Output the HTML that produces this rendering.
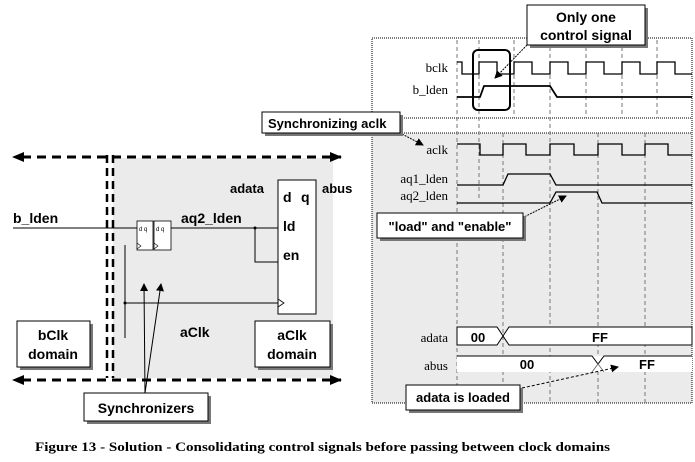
<!DOCTYPE html>
<html><head><meta charset="utf-8"><style>body{margin:0;background:#fff}svg{display:block}</style></head><body>
<svg width="695" height="462" viewBox="0 0 695 462" xmlns="http://www.w3.org/2000/svg">
<defs>
<marker id="ah" markerWidth="8" markerHeight="8" refX="7" refY="4" orient="auto" markerUnits="userSpaceOnUse"><path d="M0,0 L8,4 L0,8 z" fill="#000"/></marker>
<marker id="big" markerWidth="12" markerHeight="10" refX="11" refY="5" orient="auto" markerUnits="userSpaceOnUse"><path d="M0,0 L12,5 L0,10 z" fill="#000"/></marker>
</defs>
<g font-family="Liberation Sans, sans-serif" font-weight="bold">
<!-- left gray panel -->
<rect x="113" y="158" width="220" height="220" fill="#ebebeb"/>
<line x1="22" y1="157" x2="341" y2="157" stroke="#000" stroke-width="3" stroke-dasharray="9,6" marker-end="url(#big)"/>
<path d="M12,157 L24,152 L24,162 z"/>
<line x1="22" y1="380" x2="341" y2="380" stroke="#000" stroke-width="3" stroke-dasharray="9,6" marker-end="url(#big)"/>
<path d="M12,380 L24,375 L24,385 z"/>
<line x1="107" y1="155" x2="107" y2="378" stroke="#000" stroke-width="2.5" stroke-dasharray="8,5"/>
<line x1="113" y1="155" x2="113" y2="378" stroke="#000" stroke-width="2.5" stroke-dasharray="8,5"/>
<!-- register -->
<rect x="278" y="180" width="38" height="134" fill="#fff" stroke="#000"/>
<text x="283" y="202" font-size="14">d</text><text x="301" y="202" font-size="14">q</text>
<text x="283" y="231" font-size="14">ld</text>
<text x="283" y="260" font-size="14">en</text>
<path d="M278,299 L284,303 L278,307" fill="none" stroke="#000" stroke-width="0.8"/>
<text x="230" y="193" font-size="13">adata</text>
<text x="322" y="193" font-size="13">abus</text>
<!-- flops -->
<rect x="137" y="221" width="16" height="29" fill="#fff" stroke="#000" stroke-width="0.8"/>
<rect x="154" y="221" width="17" height="29" fill="#fff" stroke="#000" stroke-width="0.8"/>
<text x="139" y="231" font-size="6" font-weight="normal">d q</text>
<text x="156" y="231" font-size="6" font-weight="normal">d q</text>
<path d="M137,243 L141,246 L137,249 M154,243 L158,246 L154,249" fill="none" stroke="#000" stroke-width="0.6"/>
<line x1="13" y1="228" x2="137" y2="228" stroke="#000"/>
<line x1="171" y1="228" x2="278" y2="228" stroke="#000"/>
<circle cx="255" cy="228" r="1.5"/>
<path d="M255,228 V262 H278" fill="none" stroke="#000"/>
<line x1="125" y1="245" x2="125" y2="338" stroke="#000"/>
<line x1="125" y1="303" x2="278" y2="303" stroke="#000"/>
<circle cx="125" cy="303" r="1.5"/>
<text x="13" y="223" font-size="14">b_lden</text>
<text x="181" y="223" font-size="14">aq2_lden</text>
<text x="180" y="337" font-size="14">aClk</text>
<!-- domain boxes -->
<rect x="20" y="324" width="73" height="46" fill="#777"/>
<rect x="17" y="321" width="73" height="46" fill="#fff" stroke="#000"/>
<text x="53" y="340" font-size="14" text-anchor="middle">bClk</text>
<text x="53" y="359" font-size="14" text-anchor="middle">domain</text>
<rect x="258" y="324" width="75" height="46" fill="#777"/>
<rect x="255" y="321" width="75" height="46" fill="#fff" stroke="#000"/>
<text x="292" y="340" font-size="14" text-anchor="middle">aClk</text>
<text x="292" y="359" font-size="14" text-anchor="middle">domain</text>
<!-- synchronizers -->
<line x1="145" y1="393" x2="144" y2="284" stroke="#000" marker-end="url(#ah)"/>
<line x1="145" y1="393" x2="161" y2="284" stroke="#000" marker-end="url(#ah)"/>
<rect x="87" y="396" width="124" height="28" fill="#777"/>
<rect x="84" y="393" width="124" height="28" fill="#fff" stroke="#000"/>
<text x="146" y="413" font-size="14" text-anchor="middle">Synchronizers</text>

<!-- right timing -->
<rect x="372" y="133" width="320" height="270" fill="#ebebeb"/>
<rect x="372" y="38" width="320" height="365" fill="none" stroke="#000" stroke-dasharray="1,1"/>
<line x1="372" y1="118" x2="692" y2="118" stroke="#000" stroke-dasharray="1,1"/>
<line x1="372" y1="133" x2="692" y2="133" stroke="#000" stroke-dasharray="1,1"/>
<g stroke="#777" stroke-dasharray="4,3">
<line x1="457" y1="40" x2="457" y2="403"/>
<line x1="479" y1="40" x2="479" y2="200"/>
<line x1="514" y1="40" x2="514" y2="118"/>
<line x1="550" y1="40" x2="550" y2="403"/>
<line x1="586" y1="40" x2="586" y2="118"/>
<line x1="622" y1="40" x2="622" y2="118"/>
<line x1="657" y1="40" x2="657" y2="118"/>
<line x1="503" y1="133" x2="503" y2="403"/>
<line x1="598" y1="133" x2="598" y2="403"/>
<line x1="645" y1="133" x2="645" y2="403"/>
</g>
<g fill="none" stroke="#000" stroke-width="1.3">
<path d="M457,62 H462 V74 H479 V62 H497 V74 H514 V62 H532 V74 H550 V62 H568 V74 H586 V62 H604 V74 H622 V62 H640 V74 H657 V62 H675 V74 H692"/>
<path d="M457,97 H480 L484,86 H550 L557,97 H692" stroke-width="1.8"/>
<path d="M457,144 H480 V155 H503 V144 H526 V155 H550 V144 H574 V155 H598 V144 H622 V155 H645 V144 H668 V155 H692"/>
<path d="M457,185 H503 L508,174 H550 L556,185 H692"/>
<path d="M457,203 H550 L556,192 H597 L602,203 H692"/>
<path d="M457,327 H497 L503,336 L497,345 H457 Z" fill="#fff" stroke-width="1"/>
<path d="M503,336 L509,327 H692 V345 H509 Z" fill="#fff" stroke-width="1"/>
<rect x="457" y="356" width="235" height="16" fill="#fff" stroke="none"/>
<path d="M457,356 H592 L598,364 L604,356 H692" stroke-width="1"/>
<path d="M592,372 L598,364 L604,372" stroke-width="1" stroke="#777"/>
</g>
<rect x="473" y="50" width="37" height="60" rx="5" fill="none" stroke="#000" stroke-width="2"/>
<g font-family="Liberation Serif, serif" font-weight="normal" font-size="13" text-anchor="end">
<text x="448" y="72">bclk</text>
<text x="448" y="94">b_lden</text>
<text x="448" y="154">aclk</text>
<text x="448" y="183">aq1_lden</text>
<text x="448" y="200">aq2_lden</text>
<text x="448" y="342">adata</text>
<text x="448" y="370">abus</text>
</g>
<text x="478" y="342" font-size="13" text-anchor="middle">00</text>
<text x="600" y="342" font-size="13" text-anchor="middle">FF</text>
<text x="527" y="369" font-size="13" text-anchor="middle">00</text>
<text x="647" y="369" font-size="13" text-anchor="middle">FF</text>
<!-- callouts -->
<line x1="527" y1="45" x2="495" y2="78" stroke="#000" stroke-dasharray="2,1" marker-end="url(#ah)"/>
<rect x="530" y="8" width="118" height="40" fill="#777"/>
<rect x="527" y="5" width="118" height="40" fill="#fff" stroke="#000"/>
<text x="586" y="22" font-size="14" text-anchor="middle">Only one</text>
<text x="586" y="40" font-size="14" text-anchor="middle">control signal</text>
<line x1="402" y1="134" x2="423" y2="145" stroke="#000" stroke-dasharray="2,1" marker-end="url(#ah)"/>
<rect x="265" y="115" width="138" height="21" fill="#777"/>
<rect x="262" y="112" width="138" height="21" fill="#fff" stroke="#000"/>
<text x="268" y="128" font-size="13">Synchronizing aclk</text>
<line x1="522" y1="218" x2="566" y2="196" stroke="#000" stroke-dasharray="2,1" marker-end="url(#ah)"/>
<rect x="380" y="216" width="146" height="25" fill="#777"/>
<rect x="377" y="213" width="146" height="25" fill="#fff" stroke="#000"/>
<text x="450" y="231" font-size="13" text-anchor="middle">"load" and "enable"</text>
<line x1="522" y1="388" x2="618" y2="367" stroke="#000" stroke-dasharray="3,2" marker-end="url(#ah)"/>
<rect x="409" y="388" width="114" height="25" fill="#777"/>
<rect x="406" y="385" width="114" height="25" fill="#fff" stroke="#000"/>
<text x="463" y="402" font-size="13" text-anchor="middle">adata is loaded</text>
</g>
<text x="35" y="451" font-family="Liberation Serif, serif" font-weight="bold" font-size="13" textLength="575" lengthAdjust="spacingAndGlyphs">Figure 13 - Solution - Consolidating control signals before passing between clock domains</text>
</svg>
</body></html>
